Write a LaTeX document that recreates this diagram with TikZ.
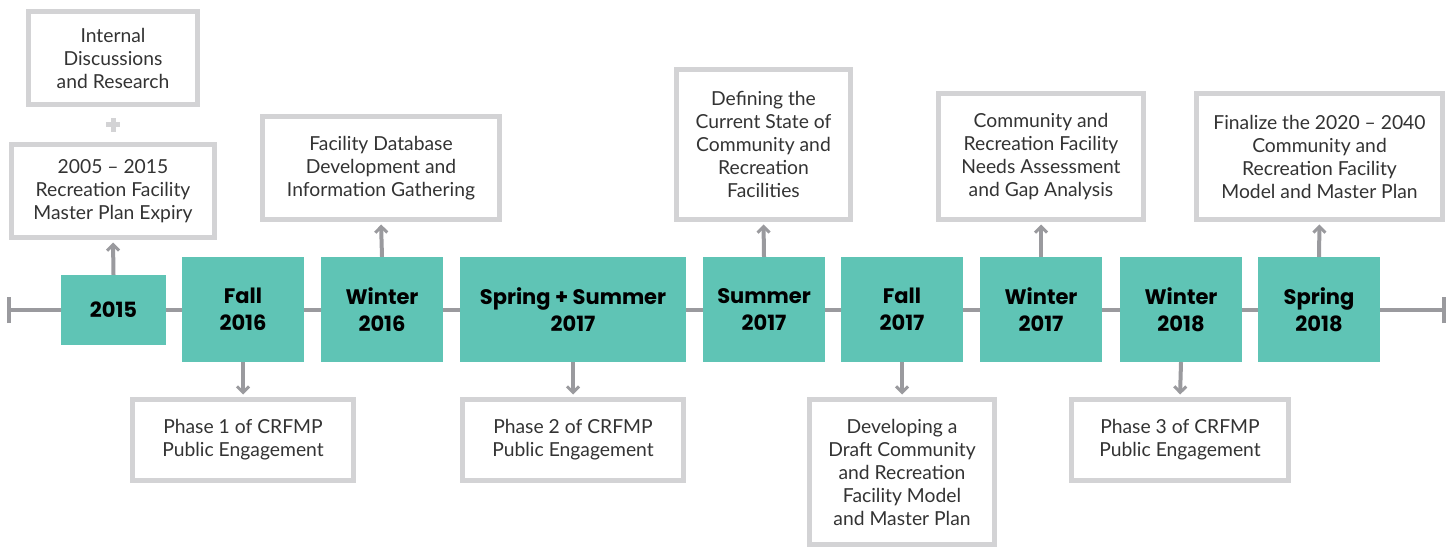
\documentclass[tikz,border=0pt]{standalone}
\usepackage{fontspec}
\setmainfont{Lato}
\newfontfamily\headfont{Poppins}
\usetikzlibrary{arrows.meta}
\definecolor{teal1}{HTML}{5FC4B5}
\definecolor{gborder}{HTML}{D3D3D5}
\definecolor{lineg}{HTML}{9A9A9E}
\definecolor{txt}{HTML}{333333}
\tikzset{
  gbox/.style={draw=gborder, line width=5pt, fill=white, align=center, inner sep=0pt,
    font=\fontsize{19.3}{23}\selectfont, text=txt},
  tbox/.style={fill=teal1, align=center, inner sep=0pt, minimum width=122pt, minimum height=105pt,
    font=\headfont\bfseries\fontsize{21}{27}\selectfont, text=black},
  conn/.style={draw=lineg, line width=4pt, -{Straight Barb[length=6pt,width=12pt,line width=3pt]}, shorten >=2.5pt},
  tl/.style={draw=lineg, line width=4pt}
}
\begin{document}
\begin{tikzpicture}[x=1pt,y=-1pt]
\useasboundingbox (0,0) rectangle (1453,548);
% timeline
\coordinate (L) at (9,310);
\coordinate (R) at (1444,310);
\draw[tl] (L) -- (R);
\draw[tl] ([yshift=-13pt]L) -- ([yshift=13pt]L);
\draw[tl] ([yshift=-13pt]R) -- ([yshift=13pt]R);
% teal boxes
\node[tbox, minimum width=105pt, minimum height=70pt] (t2015) at (113.5,310) {2015};
\node[tbox] (fall16) at (243,309.5) {Fall\\2016};
\node[tbox] (win16) at (382,309.5) {Winter\\2016};
\node[tbox, minimum width=226pt] (spr17) at (573,309.5) {Spring + Summer\\2017};
\node[tbox] (sum17) at (764,309.5) {Summer\\2017};
\node[tbox] (fall17) at (902,309.5) {Fall\\2017};
\node[tbox] (win17) at (1041,309.5) {Winter\\2017};
\node[tbox] (win18) at (1181,309.5) {Winter\\2018};
\node[tbox] (spr18) at (1319,309.5) {Spring\\2018};
% gray boxes
\node[gbox, minimum width=169pt, minimum height=93pt] (internal) at (113,58) {Internal\\Discussions\\and Research};
\node[gbox, minimum width=203pt, minimum height=93pt] (expiry) at (113,191) {2005 – 2015\\Recreation Facility\\Master Plan Expiry};
\node[gbox, minimum width=237pt, minimum height=103pt] (facdb) at (381,168) {Facility Database\\Development and\\Information Gathering};
\node[gbox, minimum width=174pt, minimum height=150pt] (defining) at (763.5,144.5) {Defining the\\Current State of\\Community and\\Recreation\\Facilities};
\node[gbox, minimum width=205pt, minimum height=126pt] (needs) at (1041,156.5) {Community and\\Recreation Facility\\Needs Assessment\\and Gap Analysis};
\node[gbox, minimum width=246pt, minimum height=126pt] (final) at (1319.5,156.5) {Finalize the 2020 – 2040\\Community and\\Recreation Facility\\Model and Master Plan};
\node[gbox, minimum width=221pt, minimum height=81pt] (ph1) at (243,440) {Phase 1 of CRFMP\\Public Engagement};
\node[gbox, minimum width=221pt, minimum height=81pt] (ph2) at (573,440) {Phase 2 of CRFMP\\Public Engagement};
\node[gbox, minimum width=185pt, minimum height=145pt] (dev) at (902,472) {Developing a\\Draft Community\\and Recreation\\Facility Model\\and Master Plan};
\node[gbox, minimum width=217pt, minimum height=81pt] (ph3) at (1180,440) {Phase 3 of CRFMP\\Public Engagement};
% plus sign
\coordinate (plus) at (113,125);
\draw[draw=gborder, line width=5pt] ([xshift=-7pt]plus) -- ([xshift=7pt]plus);
\draw[draw=gborder, line width=5pt] ([yshift=-7pt]plus) -- ([yshift=7pt]plus);
% connectors
\draw[conn] (t2015.north) -- (expiry.south);
\draw[conn] (win16.north) -- (facdb.south);
\draw[conn] (sum17.north) -- (defining.south);
\draw[conn] (win17.north) -- (needs.south);
\draw[conn] (spr18.north) -- (final.south);
\draw[conn] (fall16.south) -- (ph1.north);
\draw[conn] (spr17.south) -- (ph2.north);
\draw[conn] (fall17.south) -- (dev.north);
\draw[conn] (win18.south) -- (ph3.north);
\end{tikzpicture}
\end{document}
